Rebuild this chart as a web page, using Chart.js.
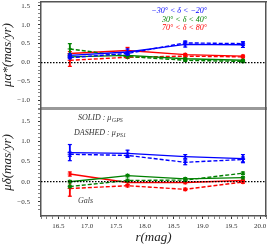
<!DOCTYPE html>
<html><head><meta charset="utf-8">
<script src="https://cdn.jsdelivr.net/npm/chart.js@4"></script>
<style>
html,body{margin:0;padding:0;background:#fff;width:269px;height:245px;overflow:hidden}
canvas{position:absolute;left:0}
</style></head><body>
<canvas id="c1" width="269" height="109" style="top:0"></canvas>
<canvas id="c2" width="269" height="137" style="top:108px"></canvas>
<script>
// ---- data ----
const mag = [16.7, 17.7, 18.7, 19.7];
const xTickLabels = [16.5, 17.0, 17.5, 18.0, 18.5, 19.0, 19.5, 20.0];
const yTickLabelsTop = [-1.0, -0.5, 0.0, 0.5, 1.0, 1.5];
const yTickLabelsBot = [-0.5, 0.0, 0.5, 1.0, 1.5];
const zeroX = [16.2, 20.1];
const zeroY = [0, 0];
const legendLabels = ['−30° < δ < −20°', '30° < δ < 40°', '70° < δ < 80°'];

// mu_alpha* (top panel)
const raBlueSolid  = [0.19, 0.28, 0.48, 0.47];
const raBlueDash   = [0.13, 0.24, 0.52, 0.50];
const raGreenSolid = [0.15, 0.19, 0.10, 0.06];
const raGreenDash  = [0.36, 0.16, 0.06, 0.03];
const raRedSolid   = [0.24, 0.32, 0.21, 0.17];
const raRedDash    = [0.06, 0.14, 0.17, 0.15];
const raBlueSolidErr  = [0.04, 0.08, 0.07, 0.07];
const raBlueDashErr   = [0.03, 0.03, 0.05, 0.05];
const raGreenSolidErr = [0.03, 0.03, 0.02, 0.02];
const raGreenDashErr  = [0.14, 0.04, 0.03, 0.03];
const raRedSolidErr   = [0.05, 0.08, 0.03, 0.03];
const raRedDashErr    = [0.16, 0.03, 0.03, 0.03];

// mu_delta (bottom panel)
const deBlueSolid  = [0.72, 0.70, 0.62, 0.57];
const deBlueDash   = [0.68, 0.65, 0.48, 0.55];
const deGreenSolid = [0.00, 0.15, 0.07, 0.10];
const deGreenDash  = [-0.12, 0.03, 0.04, 0.21];
const deRedSolid   = [0.19, -0.02, -0.02, 0.03];
const deRedDash    = [-0.17, -0.10, -0.19, -0.01];
const deBlueSolidErr  = [0.20, 0.08, 0.05, 0.10];
const deBlueDashErr   = [0.05, 0.05, 0.06, 0.06];
const deGreenSolidErr = [0.03, 0.03, 0.03, 0.03];
const deGreenDashErr  = [0.03, 0.03, 0.03, 0.03];
const deRedSolidErr   = [0.05, 0.05, 0.03, 0.03];
const deRedDashErr    = [0.19, 0.03, 0.03, 0.03];

// ---- styling ----
const BLUE = '#0000ff', GREEN = '#008000', RED = '#ff0000';
const SERIF = '"Liberation Serif", "DejaVu Serif", serif';
const FRAME = '#555';

function series(vals, errs, color, dashed) {
  const ds = [];
  ds.push({
    type: 'line', xAxisID: 'x', yAxisID: 'y',
    data: mag.map((x, i) => ({x, y: vals[i]})),
    borderColor: color, backgroundColor: color, borderWidth: 1.4,
    borderDash: dashed ? [4, 2] : [], tension: 0,
    pointStyle: 'cross', pointRadius: 2.2, pointBorderWidth: 1, fill: false
  });
  ds.push({
    type: 'bar', xAxisID: 'x', yAxisID: 'y', grouped: false,
    data: mag.map((x, i) => ({x, y: [vals[i] - errs[i], vals[i] + errs[i]]})),
    backgroundColor: color, borderWidth: 0, barThickness: 1.2
  });
  ds.push({
    type: 'line', xAxisID: 'x', yAxisID: 'y', showLine: false,
    data: mag.flatMap((x, i) => [{x, y: vals[i] - errs[i]}, {x, y: vals[i] + errs[i]}]),
    borderColor: color, pointStyle: 'line', pointRadius: 2, pointBorderWidth: 1.2
  });
  return ds;
}
function zeroDs() {
  return {
    type: 'line', xAxisID: 'x', yAxisID: 'y',
    data: zeroX.map((x, i) => ({x, y: zeroY[i]})),
    borderColor: '#000', borderWidth: 1.2, borderDash: [1.5, 1.5], pointRadius: 0
  };
}
function fmt(v) { return (v < 0 ? '−' : '') + Math.abs(v).toFixed(1); }
function onlyTenths(s) {
  s.ticks = s.ticks.filter(t => Math.abs(t.value * 10 - Math.round(t.value * 10)) < 1e-6);
}
function isLabel(arr, v) { return arr.some(a => Math.abs(a - v) < 1e-6); }
function noPad(s) { s.paddingTop = 0; s.paddingBottom = 0; s.paddingLeft = 0; s.paddingRight = 0; }

function yAxis(min, max, labels, title) {
  return {
    type: 'linear', position: 'left', min, max,
    afterBuildTicks: onlyTenths,
    ticks: {
      stepSize: 0.1, autoSkip: false, padding: 8, color: '#333',
      font: {family: SERIF, size: 7},
      callback: v => isLabel(labels, v) ? fmt(v) : ''
    },
    grid: {
      drawOnChartArea: false, drawTicks: true, tickLength: 3,
      tickColor: '#333',
      tickWidth: c => (c.tick && isLabel(labels, c.tick.value)) ? 1 : 0.6
    },
    border: {color: FRAME, width: 1.5},
    title: {display: true, text: title, color: '#222', padding: 0,
            font: {family: SERIF, size: 13, style: 'italic'}},
    afterFit: s => { s.width = 41; noPad(s); }
  };
}
function plainAxis(pos, min, max, color, width) {
  return {
    type: 'linear', position: pos, min, max, offset: false,
    ticks: {display: false},
    grid: {display: false, offset: false},
    border: {color, width},
    afterFit: s => { if (pos === 'top' || pos === 'bottom') s.height = 0; else s.width = 0; noPad(s); }
  };
}

const textPlugin = {
  id: 'texts',
  afterDraw(chart, args, opts) {
    const ctx = chart.ctx;
    ctx.save();
    (opts.items || []).forEach(it => {
      let x = it.x;
      ctx.textBaseline = 'middle';
      ctx.fillStyle = it.color || '#333';
      ctx.font = 'italic ' + it.size + 'px ' + SERIF;
      ctx.textAlign = it.align || 'left';
      ctx.fillText(it.text, x, it.y);
      if (it.sub) {
        const w = ctx.measureText(it.text).width;
        ctx.textAlign = 'left';
        ctx.font = 'italic ' + (it.size - 2) + 'px ' + SERIF;
        ctx.fillText(it.sub, x + w + 0.5, it.y + 2);
      }
    });
    ctx.restore();
  }
};

Chart.defaults.animation = false;

new Chart(document.getElementById('c1'), {
  type: 'line',
  data: {datasets: [
    zeroDs(),
    ...series(raBlueSolid, raBlueSolidErr, BLUE, false),
    ...series(raBlueDash, raBlueDashErr, BLUE, true),
    ...series(raGreenSolid, raGreenSolidErr, GREEN, false),
    ...series(raGreenDash, raGreenDashErr, GREEN, true),
    ...series(raRedSolid, raRedSolidErr, RED, false),
    ...series(raRedDash, raRedDashErr, RED, true)
  ]},
  options: {
    responsive: false, animation: false,
    layout: {autoPadding: false, padding: {left: 0, right: 3, top: 2, bottom: 1}},
    plugins: {legend: {display: false}, tooltip: {enabled: false},
      texts: {items: [
        {text: legendLabels[0], x: 207, y: 11, size: 8, color: BLUE, align: 'right'},
        {text: legendLabels[1], x: 207, y: 20, size: 8, color: GREEN, align: 'right'},
        {text: legendLabels[2], x: 207, y: 28, size: 8, color: RED, align: 'right'}
      ]}},
    scales: {
      x: plainAxis('bottom', 16.2, 20.1, '#999', 2),
      x2: plainAxis('top', 16.2, 20.1, FRAME, 1.5),
      y: yAxis(-1.2, 1.6, yTickLabelsTop, 'μα*(mas/yr)'),
      y2: plainAxis('right', -1.2, 1.6, FRAME, 1.5)
    }
  },
  plugins: [textPlugin]
});

const xBottom = {
  type: 'linear', position: 'bottom', min: 16.2, max: 20.1, offset: false,
  afterBuildTicks: onlyTenths,
  ticks: {
    stepSize: 0.1, autoSkip: false, maxRotation: 0, padding: 3, color: '#333',
    font: {family: SERIF, size: 7},
    callback: v => isLabel(xTickLabels, v) ? v.toFixed(1) : ''
  },
  grid: {
    drawOnChartArea: false, drawTicks: true, tickLength: 3, tickColor: '#333', offset: false,
    tickWidth: c => (c.tick && isLabel(xTickLabels, c.tick.value)) ? 1 : 0.6
  },
  border: {color: FRAME, width: 1.5},
  title: {display: true, text: 'r(mag)', color: '#222', padding: {top: 1, bottom: 0},
          font: {family: SERIF, size: 13, style: 'italic'}},
  afterFit: s => { s.height = 29; noPad(s); }
};

new Chart(document.getElementById('c2'), {
  type: 'line',
  data: {datasets: [
    zeroDs(),
    ...series(deBlueSolid, deBlueSolidErr, BLUE, false),
    ...series(deBlueDash, deBlueDashErr, BLUE, true),
    ...series(deGreenSolid, deGreenSolidErr, GREEN, false),
    ...series(deGreenDash, deGreenDashErr, GREEN, true),
    ...series(deRedSolid, deRedSolidErr, RED, false),
    ...series(deRedDash, deRedDashErr, RED, true)
  ]},
  options: {
    responsive: false, animation: false,
    layout: {autoPadding: false, padding: {left: 0, right: 3, top: 1, bottom: 0}},
    plugins: {legend: {display: false}, tooltip: {enabled: false},
      texts: {items: [
        {text: 'SOLID : μ', sub: 'GPS', x: 78, y: 10, size: 8, color: '#333'},
        {text: 'DASHED : μ', sub: 'PS1', x: 74, y: 25, size: 8, color: '#333'},
        {text: 'Gals', x: 78, y: 93, size: 8, color: '#444'}
      ]}},
    scales: {
      x: xBottom,
      x2: plainAxis('top', 16.2, 20.1, '#999', 2),
      y: yAxis(-0.85, 1.8, yTickLabelsBot, 'μδ(mas/yr)'),
      y2: plainAxis('right', -0.85, 1.8, FRAME, 1.5)
    }
  },
  plugins: [textPlugin]
});
</script>
</body></html>
